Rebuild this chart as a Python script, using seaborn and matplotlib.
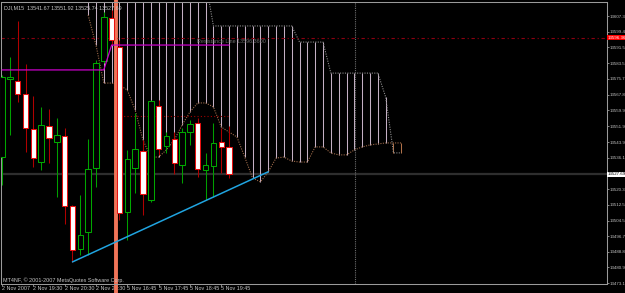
import matplotlib
matplotlib.use("Agg")
import matplotlib.pyplot as plt
import matplotlib.transforms as mtransforms
import numpy as np
import pandas as pd
import seaborn as sns

# ---------------- data (DJI, M15) ----------------
bar_idx = list(range(30))
opens = [13536.4, 13575.6, 13574.6, 13568.1, 13550.5, 13533.9, 13552.0, 13544.0, 13547.0, 13511.8,
         13490.2, 13498.8, 13530.9, 13584.7, 13606.3, 13591.7, 13508.8, 13530.9, 13539.5, 13514.8,
         13562.1, 13542.0, 13545.5, 13532.4, 13549.0, 13553.5, 13529.9, 13531.9, 13544.0, 13541.67]
highs = [13577.7, 13586.7, 13604.8, 13583.2, 13567.1, 13561.6, 13560.6, 13556.0, 13551.0, 13512.3,
         13517.4, 13545.5, 13585.2, 13609.3, 13610.3, 13595.2, 13540.0, 13558.6, 13545.0, 13565.1,
         13565.1, 13549.0, 13549.0, 13551.0, 13555.0, 13556.0, 13538.5, 13553.5, 13551.0, 13551.92]
lows = [13522.4, 13547.5, 13564.1, 13539.0, 13531.4, 13529.9, 13533.4, 13516.3, 13502.8, 13483.7,
        13487.2, 13487.2, 13521.4, 13583.7, 13592.7, 13504.8, 13494.7, 13518.4, 13507.3, 13513.8,
        13537.5, 13538.5, 13527.9, 13523.4, 13542.5, 13526.4, 13514.8, 13516.3, 13528.4, 13525.74]
closes = [13576.6, 13576.6, 13568.1, 13551.0, 13535.9, 13552.5, 13546.0, 13547.5, 13511.8, 13489.7,
          13497.3, 13530.4, 13583.7, 13606.8, 13595.2, 13508.3, 13535.4, 13540.5, 13517.9, 13564.6,
          13540.5, 13547.0, 13533.4, 13549.0, 13553.0, 13530.4, 13532.4, 13543.5, 13541.5, 13527.69]

kijun = [13580.2, 13580.2, 13580.2, 13580.2, 13580.2, 13580.2, 13580.2, 13580.2, 13580.2, 13580.2,
         13580.2, 13580.2, 13580.2, 13580.2, 13592.7, 13592.7, 13592.7, 13592.7, 13592.7, 13592.7,
         13592.7, 13592.7, 13592.7, 13592.7, 13592.7, 13592.7, 13592.7, 13592.7, 13592.7, 13592.7]

cloud_idx = list(range(11, 52))
span_a = [13607.8, 13592.7, 13573.6, 13573.6, 13572.6, 13570.1, 13560.1, 13545.0, 13536.4, 13536.4,
          13540.0, 13545.0, 13552.5, 13559.1, 13563.6, 13563.6, 13561.6, 13551.5, 13549.0, 13546.5,
          13536.4, 13525.9, 13523.9, 13528.9, 13535.9, 13536.4, 13534.4, 13533.9, 13533.9, 13541.5,
          13541.5, 13538.5, 13537.5, 13537.5, 13540.0, 13541.5, 13542.5, 13543.0, 13543.5, 13543.5,
          13543.5]
span_b = [13625.0, 13625.0, 13625.0, 13625.0, 13625.0, 13625.0, 13625.0, 13625.0, 13625.0, 13625.0,
          13625.0, 13625.0, 13625.0, 13625.0, 13625.0, 13625.0, 13602.3, 13602.3, 13602.3, 13602.3,
          13602.3, 13602.3, 13602.3, 13602.3, 13602.3, 13602.3, 13602.3, 13594.2, 13594.2, 13594.2,
          13594.2, 13578.6, 13578.6, 13578.6, 13578.6, 13578.6, 13578.6, 13578.6, 13566.6, 13538.5,
          13538.5]

spike_idx = 14.5
time_tick_idx = [0, 4, 8, 12, 16, 20, 24, 28]
time_tick_labels = ["2 Nov 2007", "2 Nov 19:30", "2 Nov 20:30", "2 Nov 21:30",
                    "5 Nov 16:45", "5 Nov 17:45", "5 Nov 18:45", "5 Nov 19:45"]
price_ticks = [13607.3, 13599.4, 13591.5, 13583.5, 13575.7, 13567.8, 13559.9, 13551.9, 13543.9,
               13536.1, 13520.3, 13512.5, 13504.5, 13496.7, 13488.8, 13480.9, 13473.1]

resistance_level = 13596.36
last_close = 13527.69
trend_idx = [9, 34]
trend_price = [13483.7, 13529.0]
dotted_level = 13557.0
dotted_level_idx = [14.7, 28.9]
shift_line_idx = 45.1

# ---------------- style ----------------
sns.set_style("dark", rc={"axes.facecolor": "#000000", "figure.facecolor": "#000000",
                          "axes.grid": False})
plt.rcParams['font.family'] = ['Liberation Sans Narrow', 'Liberation Sans', 'DejaVu Sans']
FS = 3.9
FS_R = 3.2
TXT = '#c4c4c4'
FRAME = '#9a9a9a'

fig = plt.figure(figsize=(6.25, 2.93), dpi=100, facecolor='#000000')
ax = fig.add_axes([1 / 625, 9 / 293, 606 / 625, 282 / 293])
ax.set_facecolor('#000000')
ax.set_xlim(-0.13, 77.27)
ax.set_ylim(13472.6, 13614.34)

# current price line
ax.axhline(last_close, color='#2e2e2e', lw=1.6, zorder=0.5)

# cloud hatches
ca = np.array(span_a)
cb = np.array(span_b)
hatch_cols = ['#b07048' if a > b else '#c4b0c4' for a, b in zip(ca, cb)]
ax.vlines(cloud_idx, np.minimum(ca, cb), np.maximum(ca, cb), colors=hatch_cols, lw=0.75, zorder=1)
sns.lineplot(x=cloud_idx, y=span_a, ax=ax, color='#9a6848', lw=0.8, linestyle=(0, (1, 1.2)),
             zorder=1.5, legend=False)
sns.lineplot(x=cloud_idx, y=span_b, ax=ax, color='#8c8c8c', lw=0.8, linestyle=(0, (1, 1.2)),
             zorder=1.5, legend=False)

# vertical shift line & spike bar
ax.axvline(shift_line_idx, color='#6e6e6e', lw=0.8, linestyle=(0, (1, 1)), zorder=1.6)
ax.axvline(spike_idx, ymin=-0.035, ymax=1.01, color='#f07458', lw=2.8, zorder=2, clip_on=False)

# resistance lines
ax.axhline(resistance_level, color='#8c0010', lw=0.8, linestyle=(0, (3, 2.5, 1, 2.5)), zorder=2)
ax.hlines(dotted_level, dotted_level_idx[0], dotted_level_idx[1], color='#a00000', lw=0.8,
          linestyle=(0, (1, 2)), zorder=2)
ax.text(24.9, 13594.7, 'Resistance Line 13596.3600', color='#6a6a6a', fontsize=FS, va='center',
        ha='left', zorder=2.5)

# candles
df = pd.DataFrame({'i': bar_idx, 'o': opens, 'h': highs, 'l': lows, 'c': closes})
bull = df['c'] >= df['o']
wick_cols = np.where(bull, '#00a000', '#b00000')
ax.vlines(df['i'], df['l'], df['h'], colors=wick_cols, lw=0.75, zorder=3)
body_bottom = np.minimum(df['o'], df['c'])
body_h = np.maximum(np.abs(df['c'] - df['o']), 0.6)
ax.bar(df['i'], body_h, bottom=body_bottom, width=0.7,
       color=np.where(bull, '#000000', '#ffffff'),
       edgecolor=np.where(bull, '#00a800', '#e81010'), linewidth=0.75, zorder=4)

# kijun & trend line
sns.lineplot(x=bar_idx, y=kijun, ax=ax, color='#cc00cc', lw=0.9, zorder=5, legend=False)
sns.lineplot(x=trend_idx, y=trend_price, ax=ax, color='#20a4e0', lw=1.1, zorder=5, legend=False)

# axes cosmetics
for s in ax.spines.values():
    s.set_color(FRAME)
    s.set_linewidth(0.75)
ax.yaxis.tick_right()
ax.set_yticks(price_ticks)
ax.set_yticklabels([f"{v:.1f}" for v in price_ticks])
ax.set_xticks(time_tick_idx)
ax.set_xticklabels(time_tick_labels, ha='left')
ax.tick_params(axis='y', colors=FRAME, labelcolor=TXT, labelsize=FS_R, length=1.5, width=0.6,
               pad=0.4, right=True, left=False)
ax.tick_params(axis='x', colors=FRAME, labelcolor=TXT, labelsize=FS, length=1.5, width=0.6, pad=0.2,
               bottom=True)
ax.set_xlabel('')
ax.set_ylabel('')

# price labels on the right axis
tr = mtransforms.blended_transform_factory(ax.transAxes, ax.transData)
ax.text(1.0015, resistance_level, '13596.36', transform=tr, fontsize=FS_R, color='#ffffff',
        va='center', ha='left', clip_on=False, zorder=6,
        bbox=dict(boxstyle='square,pad=0.1', fc='#ff0000', ec='none'))
ax.text(1.0015, last_close, '13527.69', transform=tr, fontsize=FS_R, color='#000000',
        va='center', ha='left', clip_on=False, zorder=6,
        bbox=dict(boxstyle='square,pad=0.1', fc='#ffffff', ec='none'))

# header & copyright
fig.text(4 / 625, 1 - 8 / 293, 'DJI,M15  13541.67 13551.92 13525.74 13527.69', color=TXT,
         fontsize=FS, va='center', ha='left')
fig.text(3 / 625, 1 - 280 / 293, 'MT4NF, \u00a9 2001-2007 MetaQuotes Software Corp.', color=TXT,
         fontsize=FS, va='center', ha='left')

fig.savefig('out.png', dpi=100, facecolor='#000000')
